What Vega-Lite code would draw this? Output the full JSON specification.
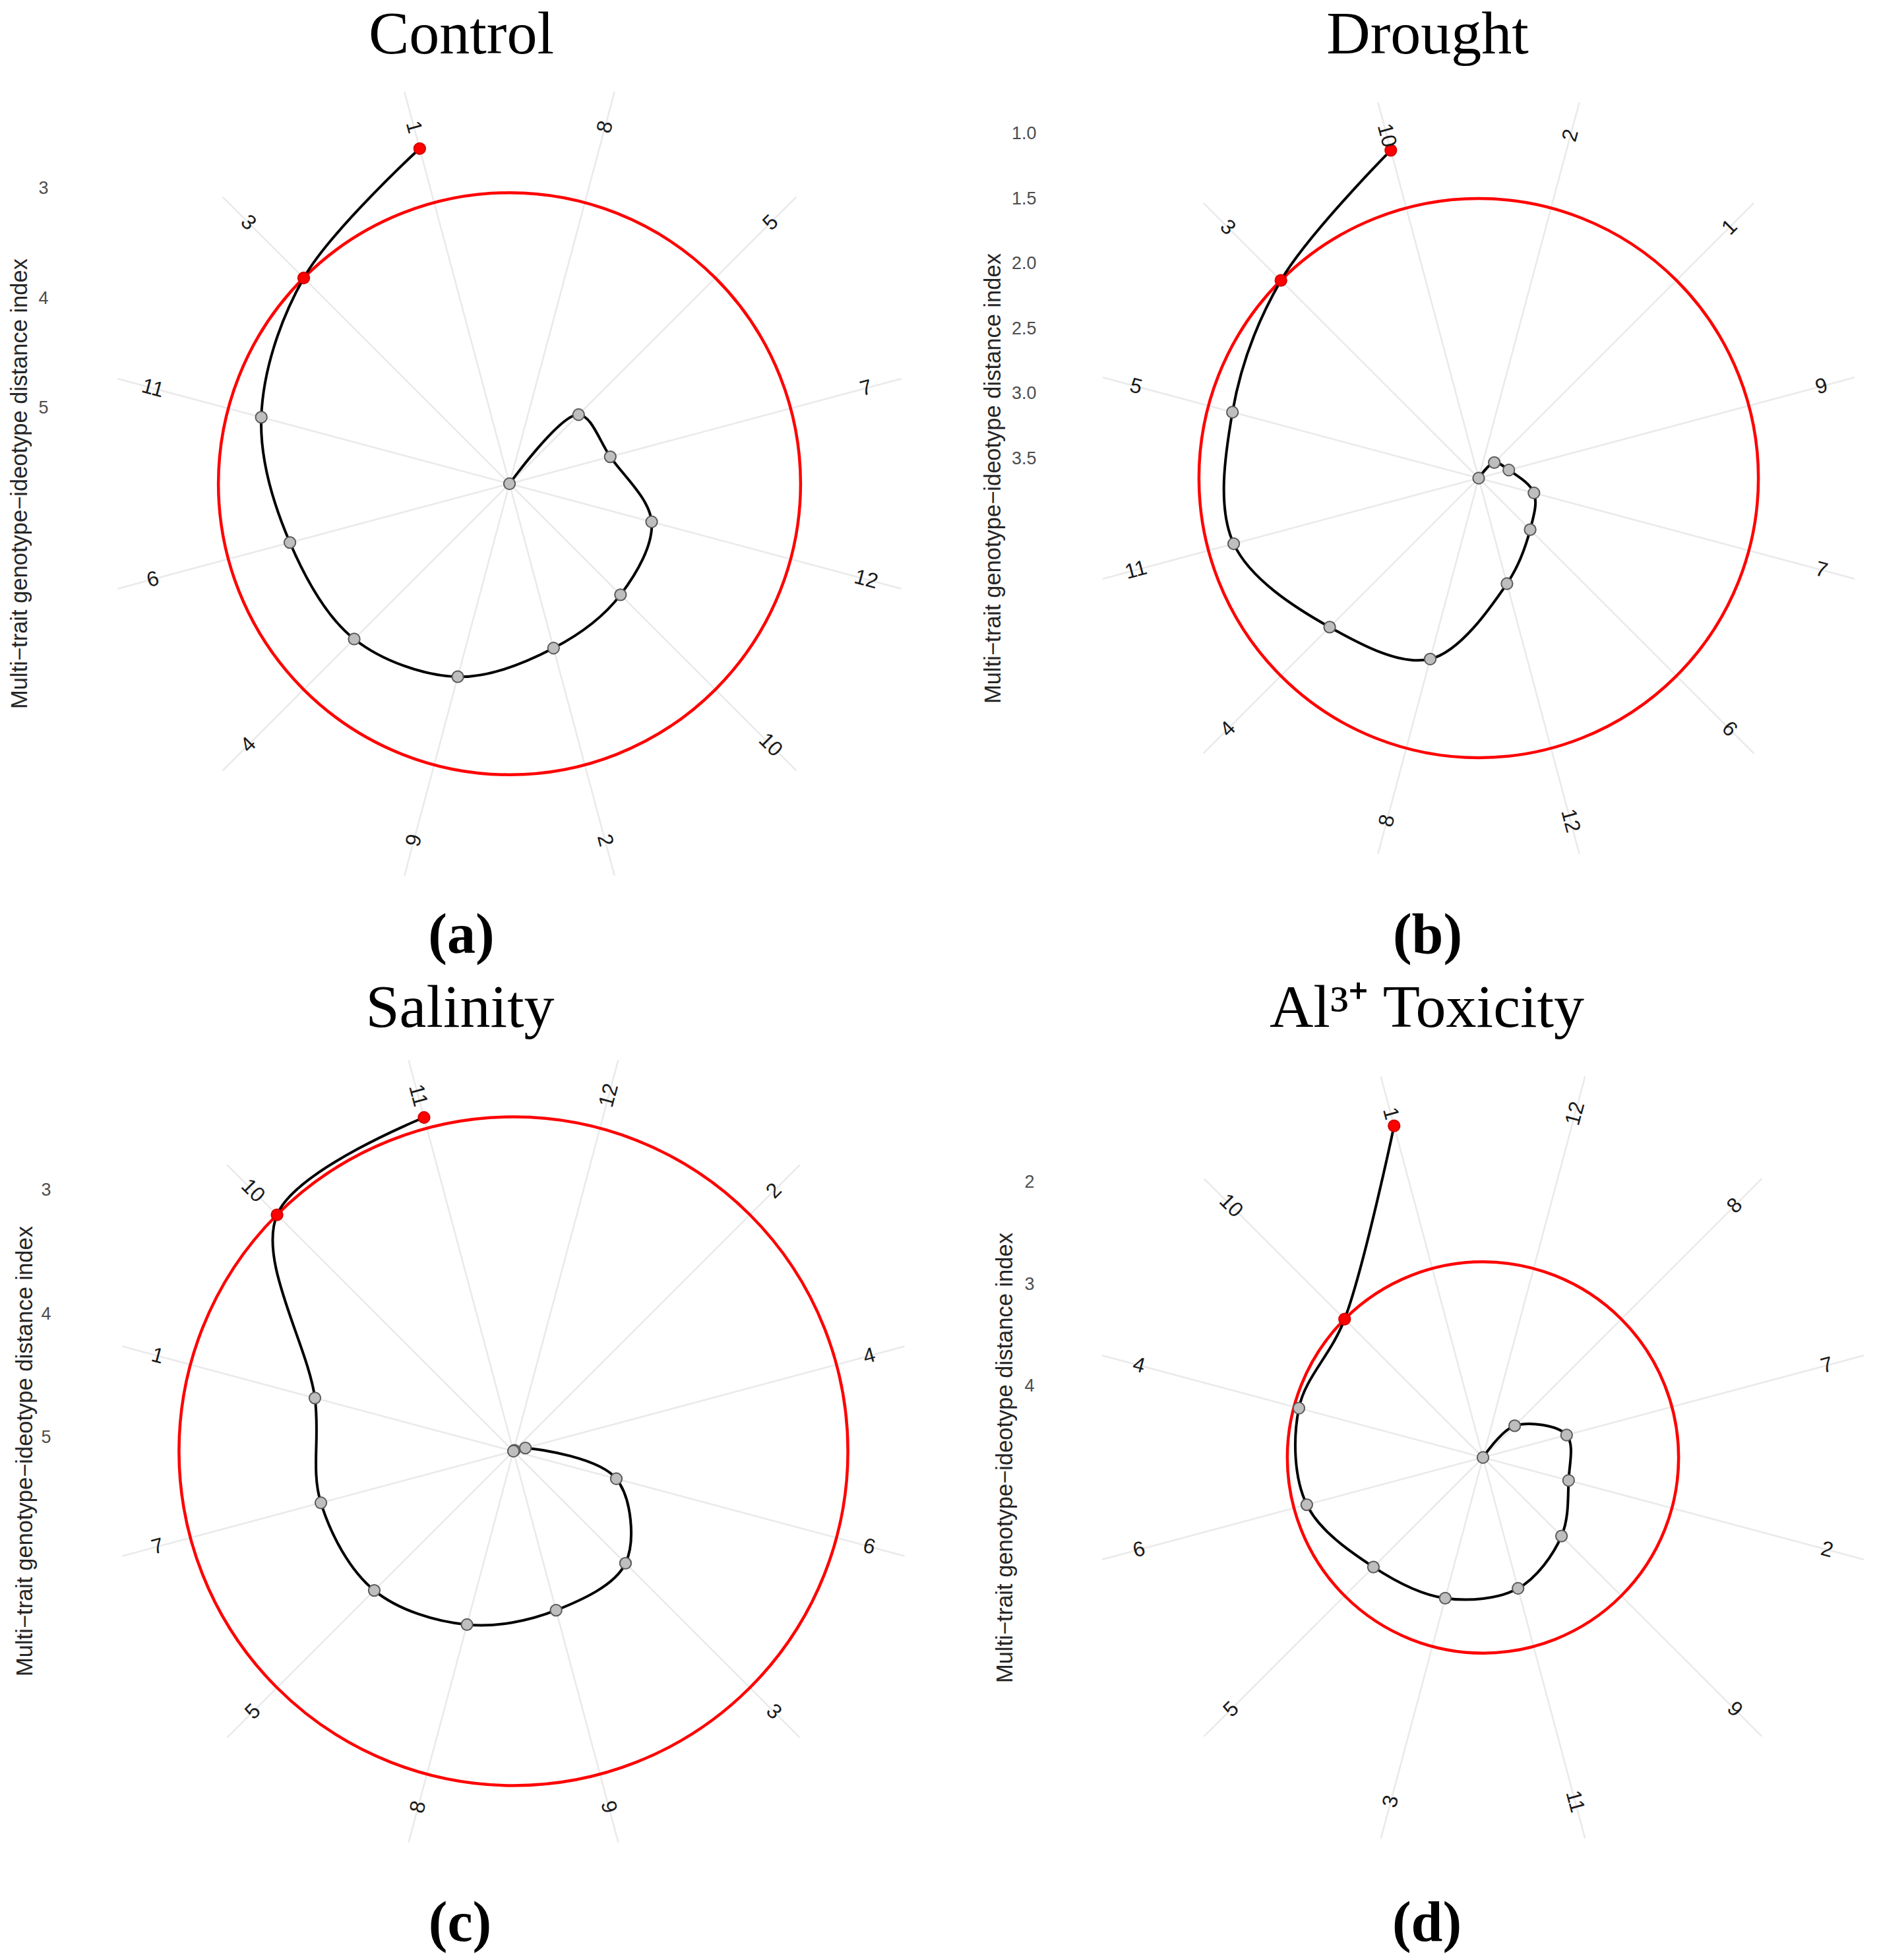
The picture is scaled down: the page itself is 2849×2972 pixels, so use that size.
{
  "$schema": "https://vega.github.io/schema/vega-lite/v6.json",
  "background": "white",
  "padding": 0,
  "autosize": {"type": "pad"},
  "spacing": 0,
  "bounds": "flush",
  "columns": 2,
  "config": {
    "view": {"stroke": null},
    "axis": {"grid": false, "domain": false, "ticks": false}
  },
  "datasets": {
    "mgidi": [
      {"panel": "Control", "genotype": "1", "rank": 1, "MGIDI": 2.53},
      {"panel": "Control", "genotype": "3", "rank": 2, "MGIDI": 3.04},
      {"panel": "Control", "genotype": "11", "rank": 3, "MGIDI": 3.35},
      {"panel": "Control", "genotype": "6", "rank": 4, "MGIDI": 3.62},
      {"panel": "Control", "genotype": "4", "rank": 5, "MGIDI": 3.69},
      {"panel": "Control", "genotype": "9", "rank": 6, "MGIDI": 3.87},
      {"panel": "Control", "genotype": "2", "rank": 7, "MGIDI": 4.14},
      {"panel": "Control", "genotype": "10", "rank": 8, "MGIDI": 4.26},
      {"panel": "Control", "genotype": "12", "rank": 9, "MGIDI": 4.35},
      {"panel": "Control", "genotype": "7", "rank": 10, "MGIDI": 4.74},
      {"panel": "Control", "genotype": "5", "rank": 11, "MGIDI": 4.80},
      {"panel": "Control", "genotype": "8", "rank": 12, "MGIDI": 5.69},
      {"panel": "Drought", "genotype": "10", "rank": 1, "MGIDI": 1.04},
      {"panel": "Drought", "genotype": "3", "rank": 2, "MGIDI": 1.50},
      {"panel": "Drought", "genotype": "5", "rank": 3, "MGIDI": 1.69},
      {"panel": "Drought", "genotype": "11", "rank": 4, "MGIDI": 1.70},
      {"panel": "Drought", "genotype": "4", "rank": 5, "MGIDI": 2.03},
      {"panel": "Drought", "genotype": "8", "rank": 6, "MGIDI": 2.21},
      {"panel": "Drought", "genotype": "12", "rank": 7, "MGIDI": 2.81},
      {"panel": "Drought", "genotype": "6", "rank": 8, "MGIDI": 3.09},
      {"panel": "Drought", "genotype": "7", "rank": 9, "MGIDI": 3.21},
      {"panel": "Drought", "genotype": "9", "rank": 10, "MGIDI": 3.41},
      {"panel": "Drought", "genotype": "1", "rank": 11, "MGIDI": 3.48},
      {"panel": "Drought", "genotype": "2", "rank": 12, "MGIDI": 3.65},
      {"panel": "Salinity", "genotype": "11", "rank": 1, "MGIDI": 2.32},
      {"panel": "Salinity", "genotype": "10", "rank": 2, "MGIDI": 2.41},
      {"panel": "Salinity", "genotype": "1", "rank": 3, "MGIDI": 3.45},
      {"panel": "Salinity", "genotype": "7", "rank": 4, "MGIDI": 3.50},
      {"panel": "Salinity", "genotype": "5", "rank": 5, "MGIDI": 3.52},
      {"panel": "Salinity", "genotype": "8", "rank": 6, "MGIDI": 3.66},
      {"panel": "Salinity", "genotype": "9", "rank": 7, "MGIDI": 3.78},
      {"panel": "Salinity", "genotype": "3", "rank": 8, "MGIDI": 3.83},
      {"panel": "Salinity", "genotype": "6", "rank": 9, "MGIDI": 4.25},
      {"panel": "Salinity", "genotype": "4", "rank": 10, "MGIDI": 5.01},
      {"panel": "Salinity", "genotype": "2", "rank": 11, "MGIDI": 5.10},
      {"panel": "Salinity", "genotype": "12", "rank": 12, "MGIDI": 5.11},
      {"panel": "Al", "genotype": "1", "rank": 1, "MGIDI": 1.33},
      {"panel": "Al", "genotype": "10", "rank": 2, "MGIDI": 2.78},
      {"panel": "Al", "genotype": "4", "rank": 3, "MGIDI": 2.83},
      {"panel": "Al", "genotype": "6", "rank": 4, "MGIDI": 2.91},
      {"panel": "Al", "genotype": "5", "rank": 5, "MGIDI": 3.18},
      {"panel": "Al", "genotype": "3", "rank": 6, "MGIDI": 3.27},
      {"panel": "Al", "genotype": "11", "rank": 7, "MGIDI": 3.37},
      {"panel": "Al", "genotype": "9", "rank": 8, "MGIDI": 3.61},
      {"panel": "Al", "genotype": "2", "rank": 9, "MGIDI": 3.83},
      {"panel": "Al", "genotype": "7", "rank": 10, "MGIDI": 3.85},
      {"panel": "Al", "genotype": "8", "rank": 11, "MGIDI": 4.26},
      {"panel": "Al", "genotype": "12", "rank": 12, "MGIDI": 4.70}
    ]
  },
  "data": {"name": "mgidi"},
  "concat": [
    {
      "width": 1424, "height": 1480,
      "resolve": {"scale": {"x": "shared"}, "axis": {"x": "independent"}},
      "transform": [
        {"filter": "datum.panel === 'Control'"},
        {"calculate": "375 - 30 * datum.rank", "as": "deg"},
        {"calculate": "datum.deg * PI / 180", "as": "theta"},
        {"calculate": "5.69 - datum.MGIDI", "as": "d"},
        {"calculate": "datum.d * sin(datum.theta)", "as": "px"},
        {"calculate": "datum.d * cos(datum.theta)", "as": "py"},
        {"calculate": "3.694 * sin(datum.theta)", "as": "sx"},
        {"calculate": "3.694 * cos(datum.theta)", "as": "sy"},
        {"calculate": "3.363 * sin(datum.theta)", "as": "lx"},
        {"calculate": "3.363 * cos(datum.theta)", "as": "ly"},
        {"calculate": "datum.deg < 180 ? datum.deg - 90 : datum.deg - 270", "as": "rot"}
      ],
      "layer": [
        {
          "mark": {"type": "rule", "color": "#EAEAEA", "strokeWidth": 2.6},
          "encoding": {
            "x": {"field": "sx", "type": "quantitative", "scale": {"domain": [-4.6396, 3.9129], "nice": false, "zero": false},
                  "axis": {"orient": "bottom", "labels": false, "title": "(a)", "titleX": 699, "titleY": -36, "titleBaseline": "alphabetic", "titleAlign": "center", "titleFont": "Liberation Serif", "titleFontSize": 86, "titleFontWeight": "bold", "titleColor": "#000000"}},
            "y": {"field": "sy", "type": "quantitative", "scale": {"domain": [-4.4835, 4.4054], "nice": false, "zero": false},
                  "axis": {"values": [2.69, 1.69, 0.69], "labelExpr": "format(5.69 - datum.value, '.0f')", "offset": -75, "labelPadding": 2, "labelFont": "Liberation Sans", "labelFontSize": 27, "labelColor": "#4D4D4D",
                           "title": "Multi−trait genotype−ideotype distance index", "titleX": -35, "titleY": 733, "titleAngle": -90, "titleBaseline": "alphabetic", "titleAlign": "center", "titleFont": "Liberation Sans", "titleFontSize": 34.5, "titleFontWeight": "normal", "titleColor": "#262626"}},
            "x2": {"datum": 0},
            "y2": {"datum": 0}
          }
        },
        {
          "transform": [{"filter": "datum.rank === 2"}],
          "mark": {"type": "arc", "theta": 0, "theta2": 6.283185307179586, "filled": false, "stroke": "#FF0000", "strokeWidth": 4.5},
          "encoding": {
            "x": {"datum": 0, "type": "quantitative", "axis": null},
            "y": {"datum": 0, "type": "quantitative"},
            "radius": {"field": "d", "type": "quantitative", "scale": {"type": "linear", "domain": [0, 1], "range": [0, 166.5]}}
          }
        },
        {
          "mark": {"type": "line", "color": "#000000", "strokeWidth": 4, "interpolate": "catmull-rom"},
          "encoding": {
            "x": {"field": "px", "type": "quantitative", "axis": null},
            "y": {"field": "py", "type": "quantitative"},
            "order": {"field": "rank", "type": "quantitative"}
          }
        },
        {
          "mark": {"type": "point", "filled": true, "size": 300, "strokeWidth": 2, "opacity": 1},
          "encoding": {
            "x": {"field": "px", "type": "quantitative", "axis": null},
            "y": {"field": "py", "type": "quantitative"},
            "fill": {"condition": {"test": "datum.rank <= 2", "value": "#FF0000"}, "value": "#BEBEBE"},
            "stroke": {"condition": {"test": "datum.rank <= 2", "value": "#D40000"}, "value": "#5A5A5A"}
          }
        },
        {
          "mark": {"type": "text", "font": "Liberation Sans", "fontSize": 32, "color": "#1A1A1A", "align": "center", "baseline": "middle"},
          "encoding": {
            "x": {"field": "lx", "type": "quantitative",
                  "axis": {"orient": "top", "labels": false, "title": "Control", "titleX": 699, "titleY": 80, "titleBaseline": "alphabetic", "titleAlign": "center", "titleFont": "Liberation Serif", "titleFontSize": 92, "titleFontWeight": "normal", "titleColor": "#000000"}},
            "y": {"field": "ly", "type": "quantitative"},
            "text": {"field": "genotype"},
            "angle": {"field": "rot", "type": "quantitative", "scale": null}
          }
        }
      ]
    },
    {
      "width": 1425, "height": 1480,
      "resolve": {"scale": {"x": "shared"}, "axis": {"x": "independent"}},
      "transform": [
        {"filter": "datum.panel === 'Drought'"},
        {"calculate": "375 - 30 * datum.rank", "as": "deg"},
        {"calculate": "datum.deg * PI / 180", "as": "theta"},
        {"calculate": "3.65 - datum.MGIDI", "as": "d"},
        {"calculate": "datum.d * sin(datum.theta)", "as": "px"},
        {"calculate": "datum.d * cos(datum.theta)", "as": "py"},
        {"calculate": "2.992 * sin(datum.theta)", "as": "sx"},
        {"calculate": "2.992 * cos(datum.theta)", "as": "sy"},
        {"calculate": "2.728 * sin(datum.theta)", "as": "lx"},
        {"calculate": "2.728 * cos(datum.theta)", "as": "ly"},
        {"calculate": "datum.deg < 180 ? datum.deg - 90 : datum.deg - 270", "as": "rot"}
      ],
      "layer": [
        {
          "mark": {"type": "rule", "color": "#EAEAEA", "strokeWidth": 2.6},
          "encoding": {
            "x": {"field": "sx", "type": "quantitative", "scale": {"domain": [-4.1481, 3.0781], "nice": false, "zero": false},
                  "axis": {"orient": "bottom", "labels": false, "title": "(b)", "titleX": 740, "titleY": -36, "titleBaseline": "alphabetic", "titleAlign": "center", "titleFont": "Liberation Serif", "titleFontSize": 86, "titleFontWeight": "bold", "titleColor": "#000000"}},
            "y": {"field": "sy", "type": "quantitative", "scale": {"domain": [-3.8286, 3.6765], "nice": false, "zero": false},
                  "axis": {"values": [2.65, 2.15, 1.65, 1.15, 0.65, 0.15], "labelExpr": "format(3.65 - datum.value, '.1f')", "offset": -149, "labelPadding": 2, "labelFont": "Liberation Sans", "labelFontSize": 27, "labelColor": "#4D4D4D",
                           "title": "Multi−trait genotype−ideotype distance index", "titleX": -57, "titleY": 725, "titleAngle": -90, "titleBaseline": "alphabetic", "titleAlign": "center", "titleFont": "Liberation Sans", "titleFontSize": 34.5, "titleFontWeight": "normal", "titleColor": "#262626"}},
            "x2": {"datum": 0},
            "y2": {"datum": 0}
          }
        },
        {
          "transform": [{"filter": "datum.rank === 2"}],
          "mark": {"type": "arc", "theta": 0, "theta2": 6.283185307179586, "filled": false, "stroke": "#FF0000", "strokeWidth": 4.5},
          "encoding": {
            "x": {"datum": 0, "type": "quantitative", "axis": null},
            "y": {"datum": 0, "type": "quantitative"},
            "radius": {"field": "d", "type": "quantitative", "scale": {"type": "linear", "domain": [0, 1], "range": [0, 197.2]}}
          }
        },
        {
          "mark": {"type": "line", "color": "#000000", "strokeWidth": 4, "interpolate": "catmull-rom"},
          "encoding": {
            "x": {"field": "px", "type": "quantitative", "axis": null},
            "y": {"field": "py", "type": "quantitative"},
            "order": {"field": "rank", "type": "quantitative"}
          }
        },
        {
          "mark": {"type": "point", "filled": true, "size": 300, "strokeWidth": 2, "opacity": 1},
          "encoding": {
            "x": {"field": "px", "type": "quantitative", "axis": null},
            "y": {"field": "py", "type": "quantitative"},
            "fill": {"condition": {"test": "datum.rank <= 2", "value": "#FF0000"}, "value": "#BEBEBE"},
            "stroke": {"condition": {"test": "datum.rank <= 2", "value": "#D40000"}, "value": "#5A5A5A"}
          }
        },
        {
          "mark": {"type": "text", "font": "Liberation Sans", "fontSize": 32, "color": "#1A1A1A", "align": "center", "baseline": "middle"},
          "encoding": {
            "x": {"field": "lx", "type": "quantitative",
                  "axis": {"orient": "top", "labels": false, "title": "Drought", "titleX": 740, "titleY": 80, "titleBaseline": "alphabetic", "titleAlign": "center", "titleFont": "Liberation Serif", "titleFontSize": 92, "titleFontWeight": "normal", "titleColor": "#000000"}},
            "y": {"field": "ly", "type": "quantitative"},
            "text": {"field": "genotype"},
            "angle": {"field": "rot", "type": "quantitative", "scale": null}
          }
        }
      ]
    },
    {
      "width": 1424, "height": 1492,
      "resolve": {"scale": {"x": "shared"}, "axis": {"x": "independent"}},
      "transform": [
        {"filter": "datum.panel === 'Salinity'"},
        {"calculate": "375 - 30 * datum.rank", "as": "deg"},
        {"calculate": "datum.deg * PI / 180", "as": "theta"},
        {"calculate": "5.11 - datum.MGIDI", "as": "d"},
        {"calculate": "datum.d * sin(datum.theta)", "as": "px"},
        {"calculate": "datum.d * cos(datum.theta)", "as": "py"},
        {"calculate": "3.27 * sin(datum.theta)", "as": "sx"},
        {"calculate": "3.27 * cos(datum.theta)", "as": "sy"},
        {"calculate": "2.975 * sin(datum.theta)", "as": "lx"},
        {"calculate": "2.975 * cos(datum.theta)", "as": "ly"},
        {"calculate": "datum.deg < 180 ? datum.deg - 90 : datum.deg - 270", "as": "rot"}
      ],
      "layer": [
        {
          "mark": {"type": "rule", "color": "#EAEAEA", "strokeWidth": 2.6},
          "encoding": {
            "x": {"field": "sx", "type": "quantitative", "scale": {"domain": [-4.1465, 3.4381], "nice": false, "zero": false},
                  "axis": {"orient": "bottom", "labels": false, "title": "(c)", "titleX": 697, "titleY": -30, "titleBaseline": "alphabetic", "titleAlign": "center", "titleFont": "Liberation Serif", "titleFontSize": 86, "titleFontWeight": "bold", "titleColor": "#000000"}},
            "y": {"field": "sy", "type": "quantitative", "scale": {"domain": [-4.1092, 3.8375], "nice": false, "zero": false},
                  "axis": {"values": [2.11, 1.11, 0.11], "labelExpr": "format(5.11 - datum.value, '.0f')", "offset": -79, "labelPadding": 2, "labelFont": "Liberation Sans", "labelFontSize": 27, "labelColor": "#4D4D4D",
                           "title": "Multi−trait genotype−ideotype distance index", "titleX": -31, "titleY": 720, "titleAngle": -90, "titleBaseline": "alphabetic", "titleAlign": "center", "titleFont": "Liberation Sans", "titleFontSize": 34.5, "titleFontWeight": "normal", "titleColor": "#262626"}},
            "x2": {"datum": 0},
            "y2": {"datum": 0}
          }
        },
        {
          "transform": [{"filter": "datum.rank === 2"}],
          "mark": {"type": "arc", "theta": 0, "theta2": 6.283185307179586, "filled": false, "stroke": "#FF0000", "strokeWidth": 4.5},
          "encoding": {
            "x": {"datum": 0, "type": "quantitative", "axis": null},
            "y": {"datum": 0, "type": "quantitative"},
            "radius": {"field": "d", "type": "quantitative", "scale": {"type": "linear", "domain": [0, 1], "range": [0, 187.75]}}
          }
        },
        {
          "mark": {"type": "line", "color": "#000000", "strokeWidth": 4, "interpolate": "catmull-rom"},
          "encoding": {
            "x": {"field": "px", "type": "quantitative", "axis": null},
            "y": {"field": "py", "type": "quantitative"},
            "order": {"field": "rank", "type": "quantitative"}
          }
        },
        {
          "mark": {"type": "point", "filled": true, "size": 300, "strokeWidth": 2, "opacity": 1},
          "encoding": {
            "x": {"field": "px", "type": "quantitative", "axis": null},
            "y": {"field": "py", "type": "quantitative"},
            "fill": {"condition": {"test": "datum.rank <= 2", "value": "#FF0000"}, "value": "#BEBEBE"},
            "stroke": {"condition": {"test": "datum.rank <= 2", "value": "#D40000"}, "value": "#5A5A5A"}
          }
        },
        {
          "mark": {"type": "text", "font": "Liberation Sans", "fontSize": 32, "color": "#1A1A1A", "align": "center", "baseline": "middle"},
          "encoding": {
            "x": {"field": "lx", "type": "quantitative",
                  "axis": {"orient": "top", "labels": false, "title": "Salinity", "titleX": 697, "titleY": 76, "titleBaseline": "alphabetic", "titleAlign": "center", "titleFont": "Liberation Serif", "titleFontSize": 92, "titleFontWeight": "normal", "titleColor": "#000000"}},
            "y": {"field": "ly", "type": "quantitative"},
            "text": {"field": "genotype"},
            "angle": {"field": "rot", "type": "quantitative", "scale": null}
          }
        }
      ]
    },
    {
      "width": 1425, "height": 1492,
      "resolve": {"scale": {"x": "shared"}, "axis": {"x": "independent"}},
      "transform": [
        {"filter": "datum.panel === 'Al'"},
        {"calculate": "375 - 30 * datum.rank", "as": "deg"},
        {"calculate": "datum.deg * PI / 180", "as": "theta"},
        {"calculate": "4.70 - datum.MGIDI", "as": "d"},
        {"calculate": "datum.d * sin(datum.theta)", "as": "px"},
        {"calculate": "datum.d * cos(datum.theta)", "as": "py"},
        {"calculate": "3.871 * sin(datum.theta)", "as": "sx"},
        {"calculate": "3.871 * cos(datum.theta)", "as": "sy"},
        {"calculate": "3.495 * sin(datum.theta)", "as": "lx"},
        {"calculate": "3.495 * cos(datum.theta)", "as": "ly"},
        {"calculate": "datum.deg < 180 ? datum.deg - 90 : datum.deg - 270", "as": "rot"}
      ],
      "layer": [
        {
          "mark": {"type": "rule", "color": "#EAEAEA", "strokeWidth": 2.6},
          "encoding": {
            "x": {"field": "sx", "type": "quantitative", "scale": {"domain": [-5.3366, 3.8867], "nice": false, "zero": false},
                  "axis": {"orient": "bottom", "labels": false, "title": "(d)", "titleX": 739, "titleY": -30, "titleBaseline": "alphabetic", "titleAlign": "center", "titleFont": "Liberation Serif", "titleFontSize": 86, "titleFontWeight": "bold", "titleColor": "#000000"}},
            "y": {"field": "sy", "type": "quantitative", "scale": {"domain": [-4.9320, 4.7249], "nice": false, "zero": false},
                  "axis": {"values": [2.70, 1.70, 0.70], "labelExpr": "format(4.70 - datum.value, '.0f')", "offset": -146, "labelPadding": 2, "labelFont": "Liberation Sans", "labelFontSize": 27, "labelColor": "#4D4D4D",
                           "title": "Multi−trait genotype−ideotype distance index", "titleX": -36, "titleY": 730, "titleAngle": -90, "titleBaseline": "alphabetic", "titleAlign": "center", "titleFont": "Liberation Sans", "titleFontSize": 34.5, "titleFontWeight": "normal", "titleColor": "#262626"}},
            "x2": {"datum": 0},
            "y2": {"datum": 0}
          }
        },
        {
          "transform": [{"filter": "datum.rank === 2"}],
          "mark": {"type": "arc", "theta": 0, "theta2": 6.283185307179586, "filled": false, "stroke": "#FF0000", "strokeWidth": 4.5},
          "encoding": {
            "x": {"datum": 0, "type": "quantitative", "axis": null},
            "y": {"datum": 0, "type": "quantitative"},
            "radius": {"field": "d", "type": "quantitative", "scale": {"type": "linear", "domain": [0, 1], "range": [0, 154.5]}}
          }
        },
        {
          "mark": {"type": "line", "color": "#000000", "strokeWidth": 4, "interpolate": "catmull-rom"},
          "encoding": {
            "x": {"field": "px", "type": "quantitative", "axis": null},
            "y": {"field": "py", "type": "quantitative"},
            "order": {"field": "rank", "type": "quantitative"}
          }
        },
        {
          "mark": {"type": "point", "filled": true, "size": 300, "strokeWidth": 2, "opacity": 1},
          "encoding": {
            "x": {"field": "px", "type": "quantitative", "axis": null},
            "y": {"field": "py", "type": "quantitative"},
            "fill": {"condition": {"test": "datum.rank <= 2", "value": "#FF0000"}, "value": "#BEBEBE"},
            "stroke": {"condition": {"test": "datum.rank <= 2", "value": "#D40000"}, "value": "#5A5A5A"}
          }
        },
        {
          "mark": {"type": "text", "font": "Liberation Sans", "fontSize": 32, "color": "#1A1A1A", "align": "center", "baseline": "middle"},
          "encoding": {
            "x": {"field": "lx", "type": "quantitative",
                  "axis": {"orient": "top", "labels": false, "title": "Al³⁺ Toxicity", "titleX": 739, "titleY": 76, "titleBaseline": "alphabetic", "titleAlign": "center", "titleFont": "Liberation Serif", "titleFontSize": 92, "titleFontWeight": "normal", "titleColor": "#000000"}},
            "y": {"field": "ly", "type": "quantitative"},
            "text": {"field": "genotype"},
            "angle": {"field": "rot", "type": "quantitative", "scale": null}
          }
        }
      ]
    }
  ]
}
